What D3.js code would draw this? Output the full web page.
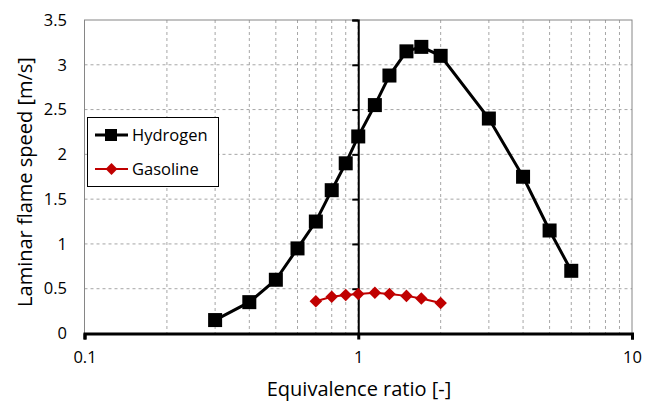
<!DOCTYPE html>
<html>
<meta charset="utf-8">
<style>
  body { margin: 0; background: #fff; }
  svg { width: 646px; height: 402px; font-family: "Open Sans", sans-serif; }
</style>
<body>
  <svg></svg>
</body>
<script src="https://d3js.org/d3.v7.min.js"></script>
<script>
  // hydrogen: equivalence ratio vs laminar flame speed
  var h2Phi   = [0.3, 0.4, 0.5, 0.6, 0.7, 0.8, 0.9, 1.0, 1.15, 1.3, 1.5, 1.7, 2.0, 3.0, 4.0, 5.0, 6.0];
  var h2Speed = [0.15, 0.35, 0.6, 0.95, 1.25, 1.6, 1.9, 2.2, 2.55, 2.88, 3.15, 3.2, 3.1, 2.4, 1.75, 1.15, 0.7];
  // gasoline
  var gasPhi   = [0.7, 0.8, 0.9, 1.0, 1.15, 1.3, 1.5, 1.7, 2.0];
  var gasSpeed = [0.36, 0.41, 0.43, 0.44, 0.455, 0.44, 0.42, 0.39, 0.34];

  var xTicks = [0.1, 1, 10];
  var yTicks = [0, 0.5, 1, 1.5, 2, 2.5, 3, 3.5];

  var pLeft = 84.5, pRight = 632, pTop = 20, pBottom = 333.5;

  var svg = d3.select("svg");

  var x = d3.scaleLog().domain([0.1, 10]).range([pLeft, pRight]);
  var y = d3.scaleLinear().domain([0, 3.5]).range([pBottom, pTop]);

  // minor + major vertical grid lines
  var xGrid = [];
  [0.1, 1].forEach(function(d) {
    for (var k = 1; k <= 10; k++) xGrid.push(d * k);
  });

  svg.append("g")
    .selectAll("line")
    .data(xGrid.filter(function(d) { return d > 0.1 && d < 10; }))
    .enter().append("line")
      .attr("x1", function(d) { return x(d); })
      .attr("x2", function(d) { return x(d); })
      .attr("y1", pTop).attr("y2", pBottom)
      .attr("stroke", "#a6a6a6").attr("stroke-width", 1)
      .attr("stroke-dasharray", "3,3");

  svg.append("g")
    .selectAll("line")
    .data(yTicks.filter(function(d) { return d > 0 && d < 3.5; }))
    .enter().append("line")
      .attr("x1", pLeft).attr("x2", pRight)
      .attr("y1", function(d) { return y(d); })
      .attr("y2", function(d) { return y(d); })
      .attr("stroke", "#a6a6a6").attr("stroke-width", 1)
      .attr("stroke-dasharray", "3,3");

  // plot border
  svg.append("rect")
    .attr("x", pLeft).attr("y", pTop)
    .attr("width", pRight - pLeft).attr("height", pBottom - pTop)
    .attr("fill", "none").attr("stroke", "#868686").attr("stroke-width", 1);

  // y axis crossing at phi = 1, labels on the far left
  var yAxis = d3.axisLeft(y).tickValues(yTicks).tickSize(6).tickFormat("");
  var ya = svg.append("g").attr("transform", "translate(" + x(1) + ",0)").call(yAxis);
  ya.select(".domain").attr("stroke", "#000").attr("stroke-width", 2);
  ya.selectAll(".tick line").attr("stroke", "#000").attr("stroke-width", 2);

  svg.append("g")
    .selectAll("text")
    .data(yTicks)
    .enter().append("text")
      .attr("x", 67)
      .attr("y", function(d) { return y(d); })
      .attr("dy", "0.35em")
      .attr("text-anchor", "end")
      .attr("font-size", "16.5px")
      .attr("fill", "#000")
      .text(function(d) { return d; });

  // x axis
  var xAxis = d3.axisBottom(x).tickValues(xTicks).tickSize(6).tickPadding(12)
    .tickFormat(function(d) { return d; });
  var xa = svg.append("g").attr("transform", "translate(0," + pBottom + ")").call(xAxis);
  xa.select(".domain").attr("stroke", "#000").attr("stroke-width", 3);
  xa.selectAll(".tick line").attr("stroke", "#000").attr("stroke-width", 3);
  xa.selectAll(".tick text").attr("font-size", "16.5px").attr("font-family", "Open Sans").attr("fill", "#000");

  // series
  var line = d3.line()
    .x(function(d) { return x(d[0]); })
    .y(function(d) { return y(d[1]); });

  var h2 = d3.zip(h2Phi, h2Speed);
  var gas = d3.zip(gasPhi, gasSpeed);

  svg.append("path").datum(gas)
    .attr("d", line).attr("fill", "none")
    .attr("stroke", "#c00000").attr("stroke-width", 2);

  svg.append("g").selectAll("path")
    .data(gas)
    .enter().append("path")
      .attr("d", d3.symbol().type(d3.symbolDiamond2).size(100))
      .attr("transform", function(d) { return "translate(" + x(d[0]) + "," + y(d[1]) + ")"; })
      .attr("fill", "#c00000");

  svg.append("path").datum(h2)
    .attr("d", line).attr("fill", "none")
    .attr("stroke", "#000").attr("stroke-width", 3);

  svg.append("g").selectAll("rect")
    .data(h2)
    .enter().append("rect")
      .attr("x", function(d) { return x(d[0]) - 7; })
      .attr("y", function(d) { return y(d[1]) - 7; })
      .attr("width", 14).attr("height", 14)
      .attr("fill", "#000");

  // legend
  var lg = svg.append("g");
  lg.append("rect")
    .attr("x", 87.5).attr("y", 117.5).attr("width", 131).attr("height", 69)
    .attr("fill", "#fff").attr("stroke", "#000").attr("stroke-width", 1);

  lg.append("line").attr("x1", 95).attr("x2", 128).attr("y1", 135).attr("y2", 135)
    .attr("stroke", "#000").attr("stroke-width", 3);
  lg.append("rect").attr("x", 105).attr("y", 129).attr("width", 12).attr("height", 12).attr("fill", "#000");
  lg.append("text").attr("x", 132).attr("y", 135).attr("dy", "0.35em")
    .attr("font-size", "16.5px").text("Hydrogen");

  lg.append("line").attr("x1", 95).attr("x2", 128).attr("y1", 169).attr("y2", 169)
    .attr("stroke", "#c00000").attr("stroke-width", 2);
  lg.append("path").attr("d", d3.symbol().type(d3.symbolDiamond2).size(90))
    .attr("transform", "translate(111.5,169)").attr("fill", "#c00000");
  lg.append("text").attr("x", 132).attr("y", 169).attr("dy", "0.35em")
    .attr("font-size", "16.5px").text("Gasoline");

  // axis titles
  svg.append("text")
    .attr("x", 359).attr("y", 396)
    .attr("text-anchor", "middle")
    .attr("font-size", "20px")
    .text("Equivalence ratio [-]");

  svg.append("text")
    .attr("transform", "translate(32,182) rotate(-90)")
    .attr("text-anchor", "middle")
    .attr("font-size", "20px")
    .text("Laminar flame speed [m/s]");
</script>
</html>
